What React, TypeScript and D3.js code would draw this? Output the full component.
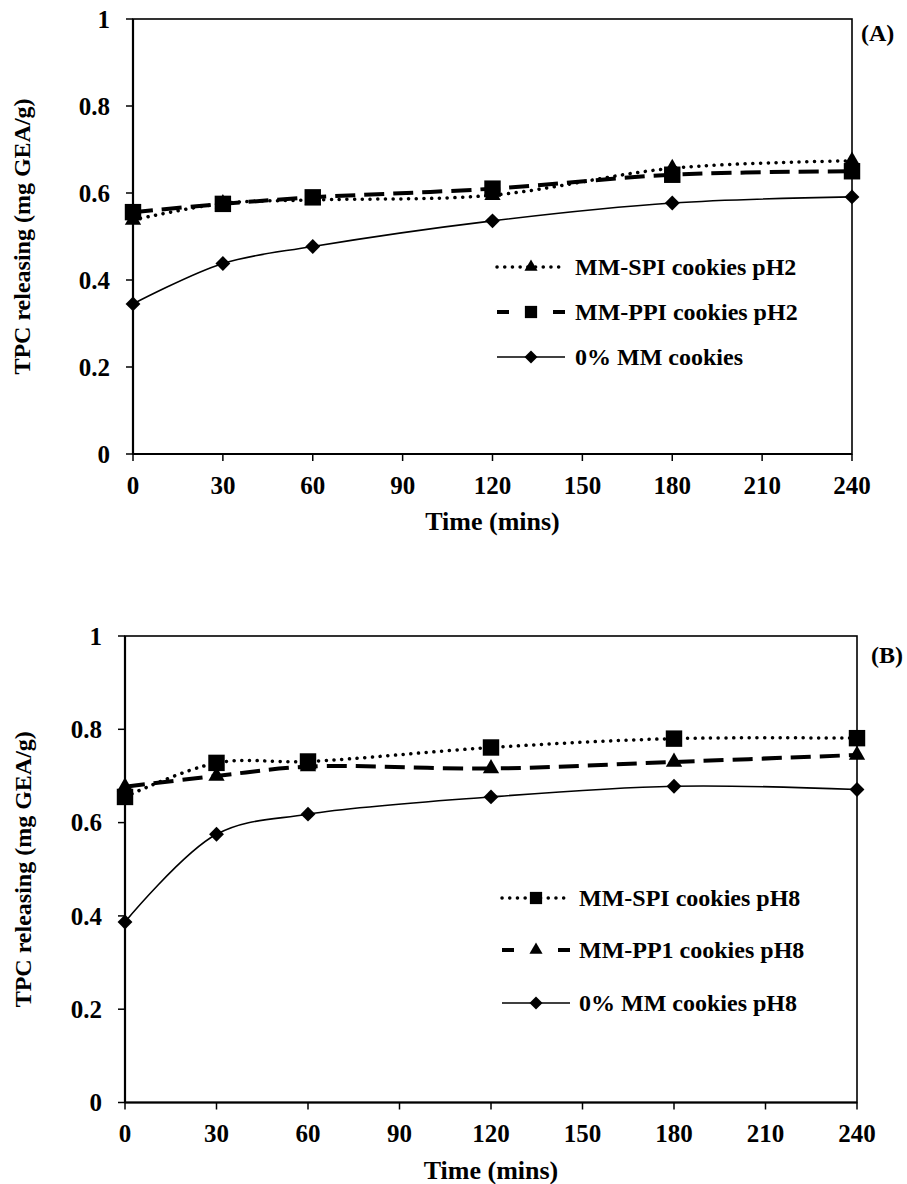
import React from 'react';
import * as d3 from 'd3';

// time points (mins)
const times = [0, 30, 60, 120, 180, 240];
const xTicks = [0, 30, 60, 90, 120, 150, 180, 210, 240];
const yTicks = [0, 0.2, 0.4, 0.6, 0.8, 1];

// panel A, pH 2
const spiPH2 = [0.538, 0.576, 0.584, 0.595, 0.657, 0.674];
const ppiPH2 = [0.556, 0.575, 0.590, 0.610, 0.642, 0.650];
const controlA = [0.345, 0.438, 0.477, 0.536, 0.577, 0.591];
const namesA = ['MM-SPI cookies pH2', 'MM-PPI cookies pH2', '0% MM cookies'];

// panel B, pH 8
const spiPH8 = [0.655, 0.728, 0.731, 0.761, 0.780, 0.781];
const pp1PH8 = [0.677, 0.700, 0.720, 0.716, 0.730, 0.745];
const controlB = [0.387, 0.575, 0.618, 0.655, 0.678, 0.671];
const namesB = ['MM-SPI cookies pH8', 'MM-PP1 cookies pH8', '0% MM cookies pH8'];

const FONT = 'Liberation Serif, Times New Roman, DejaVu Serif, serif';

const markerPath = (type, big) => {
  if (type === 'triangle') return d3.symbol(d3.symbolTriangle, big ? 115 : 75)();
  if (type === 'square') return d3.symbol(d3.symbolSquare, big ? 270 : 150)();
  return d3.symbol(d3.symbolSquare, big ? 110 : 85)();
};

const lineStyle = (dash) => {
  if (dash === 'dot') return { strokeWidth: 3.5, strokeDasharray: '0.1 7.6', strokeLinecap: 'round' };
  if (dash === 'dash') return { strokeWidth: 4, strokeDasharray: '20 9', strokeLinecap: 'butt' };
  return { strokeWidth: 1.6, strokeDasharray: 'none', strokeLinecap: 'butt' };
};

const Marker = ({ type, x, y, big }) => (
  <path
    d={markerPath(type, big)}
    transform={`translate(${x},${y})${type === 'diamond' ? ' rotate(45)' : ''}`}
    fill="black"
  />
);

const Panel = (props) => {
  const { top, bottom, left, right, series, legend, tag, yLabelX } = props;
  const xScale = d3.scaleLinear().domain([0, 240]).range([left, right]);
  const yScale = d3.scaleLinear().domain([0, 1]).range([bottom, top]);
  const line = d3.line()
    .x((d) => xScale(d[0]))
    .y((d) => yScale(d[1]))
    .curve(d3.curveCatmullRom.alpha(0.5));

  return (
    <g style={{ fontFamily: FONT, fontWeight: 'bold' }}>
      <rect x={left} y={top} width={right - left} height={bottom - top} fill="none" stroke="black" strokeWidth={1.6} />
      <line x1={left} x2={left} y1={top} y2={bottom} stroke="black" strokeWidth={2.2} />
      <line x1={left} x2={right} y1={bottom} y2={bottom} stroke="black" strokeWidth={2.2} />

      {yTicks.map((t) => (
        <g key={t} transform={`translate(0,${yScale(t)})`}>
          <line x1={left - 7} x2={left} stroke="black" strokeWidth={1.5} />
          <text x={left - 23} dy="0.35em" textAnchor="end" fontSize={25}>
            {t}
          </text>
        </g>
      ))}
      {xTicks.map((t) => (
        <g key={t} transform={`translate(${xScale(t)},0)`}>
          <line y1={bottom} y2={bottom + 7} stroke="black" strokeWidth={1.5} />
          <text y={bottom + 31} dy="0.35em" textAnchor="middle" fontSize={25}>
            {t}
          </text>
        </g>
      ))}

      <text
        transform={`translate(${yLabelX},${(top + bottom) / 2}) rotate(-90)`}
        textAnchor="middle"
        fontSize={24}
      >
        TPC releasing (mg GEA/g)
      </text>
      <text x={(left + right) / 2} y={bottom + 76} textAnchor="middle" fontSize={26}>
        Time (mins)
      </text>
      <text x={tag.x} y={tag.y} fontSize={24}>
        {tag.text}
      </text>

      {series.map((s) => {
        const pts = times.map((t, i) => [t, s.values[i]]);
        const st = lineStyle(s.dash);
        return (
          <g key={s.name}>
            <path d={line(pts)} fill="none" stroke="black" {...st} />
            {pts.map((p, i) => (
              <Marker key={i} type={s.marker} x={xScale(p[0])} y={yScale(p[1])} big />
            ))}
          </g>
        );
      })}

      {series.map((s, i) => {
        const y = legend.ys[i];
        const st = lineStyle(s.dash);
        const legendDash = s.dash === 'dash' ? '12 44' : st.strokeDasharray;
        return (
          <g key={s.name}>
            <line x1={legend.x1} x2={legend.x2} y1={y} y2={y} stroke="black" {...st} strokeDasharray={legendDash} />
            <Marker type={s.marker} x={(legend.x1 + legend.x2) / 2} y={y} />
            <text x={legend.tx} y={y} dy="0.35em" fontSize={24}>
              {s.name}
            </text>
          </g>
        );
      })}
    </g>
  );
};

const App = () => {
  const seriesA = [
    { name: namesA[0], values: spiPH2, dash: 'dot', marker: 'triangle' },
    { name: namesA[1], values: ppiPH2, dash: 'dash', marker: 'square' },
    { name: namesA[2], values: controlA, dash: 'solid', marker: 'diamond' },
  ];
  const seriesB = [
    { name: namesB[0], values: spiPH8, dash: 'dot', marker: 'square' },
    { name: namesB[1], values: pp1PH8, dash: 'dash', marker: 'triangle' },
    { name: namesB[2], values: controlB, dash: 'solid', marker: 'diamond' },
  ];

  return (
    <svg width={907} height={1184} style={{ position: 'absolute', left: 0, top: 0, background: 'white' }}>
      <Panel
        top={19}
        bottom={454}
        left={133}
        right={852}
        series={seriesA}
        legend={{ x1: 497, x2: 565, tx: 575, ys: [267, 312, 357] }}
        tag={{ text: '(A)', x: 861, y: 41 }}
        yLabelX={30}
      />
      <Panel
        top={636}
        bottom={1102.5}
        left={125}
        right={857}
        series={seriesB}
        legend={{ x1: 502, x2: 570, tx: 579, ys: [898, 950, 1003] }}
        tag={{ text: '(B)', x: 871, y: 663 }}
        yLabelX={31}
      />
    </svg>
  );
};

export default App;
